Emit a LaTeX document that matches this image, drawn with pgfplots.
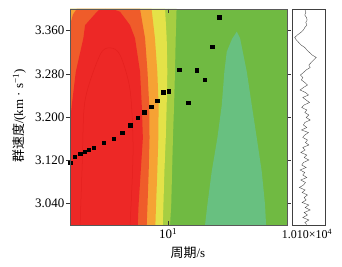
\documentclass[border=0pt]{standalone}
\usepackage{fontspec}
\setmainfont{Liberation Serif}
\newfontfamily\cjk{Noto Sans CJK SC}
\usepackage{pgfplots}
\pgfplotsset{compat=1.18}
\definecolor{cRed}{RGB}{237,40,38}
\definecolor{cOrRed}{RGB}{239,92,42}
\definecolor{cOrange}{RGB}{246,162,52}
\definecolor{cYellow}{RGB}{228,226,72}
\definecolor{cYG}{RGB}{166,206,66}
\definecolor{cGreen}{RGB}{112,186,66}
\definecolor{cTeal}{RGB}{104,192,128}
\begin{document}
\begin{tikzpicture}
\path[use as bounding box] (-70bp,-42bp) rectangle (272bp,225bp);
\begin{axis}[
  at={(0bp,0bp)}, anchor=south west,
  width=217bp, height=216bp, scale only axis,
  xmode=log, xmin=2, xmax=70, ymin=3.0, ymax=3.4,
  xtick={10}, xticklabels={10\textsuperscript{1}}, xminorticks=false,
  ytick={3.04,3.12,3.2,3.28,3.36},
  tick label style={font=\fontsize{13}{13}\selectfont},
  yticklabel style={inner sep=1.5bp, /pgf/number format/.cd, fixed, fixed zerofill, precision=3, assume math mode=true},
  xtick align=inside, ytick align=outside,
  major tick length=4bp,
  tick style={black!80},
  axis line style={draw=black!65},
  axis on top,
  clip mode=individual,
]
% background (green)
\addplot[fill=cGreen, draw=none] coordinates {(2,3.0) (70,3.0) (70,3.4) (2,3.4)} -- cycle;
% yellow-green band
\addplot[fill=cYG, draw=none] coordinates {(2,3.0) (10.3,3.0) (10.5,3.037) (10.65,3.099) (10.8,3.161) (11.0,3.222) (11.17,3.284) (11.3,3.346) (11.46,3.4) (2,3.4)} -- cycle;
% yellow band
\addplot[fill=cYellow, draw=none] coordinates {(2,3.0) (9.14,3.0) (9.24,3.037) (9.39,3.099) (9.6,3.161) (9.75,3.222) (9.85,3.284) (9.75,3.346) (9.49,3.4) (2,3.4)} -- cycle;
% orange band
\addplot[fill=cOrange, draw=none] coordinates {(2,3.0) (8.10,3.0) (8.19,3.037) (8.36,3.099) (8.50,3.161) (8.54,3.222) (8.36,3.284) (8.04,3.346) (7.61,3.4) (2,3.4)} -- cycle;
% orange-red band
\addplot[fill=cOrRed, draw=none] coordinates {(2,3.0) (7.03,3.0) (7.12,3.037) (7.26,3.099) (7.36,3.161) (7.32,3.222) (7.12,3.284) (6.84,3.346) (6.30,3.4) (2.23,3.4) (2.1,3.39) (2,3.37)} -- cycle;
% red core
\addplot[fill=cRed, draw=none] coordinates {(2,3.0) (6.07,3.0) (6.15,3.037) (6.37,3.099) (6.6,3.161) (6.48,3.222) (6.30,3.284) (5.80,3.346) (5.35,3.370) (4.54,3.395) (4.1,3.399) (3.6,3.4) (3.2,3.398) (3.09,3.394) (2.56,3.370) (2.49,3.346) (2.2,3.284) (2.06,3.222) (2.0,3.19)} -- cycle;
% faint inner contour
\addplot[draw=red!75!black, draw opacity=0.2, line width=0.5bp, smooth] coordinates {(2.36,3.0) (2.45,3.12) (2.56,3.231) (3.27,3.315) (3.85,3.328) (4.54,3.315) (5.35,3.25) (5.62,3.139) (5.35,3.0)};
% teal region
\addplot[fill=cTeal, draw=none] coordinates {(18.28,3.000) (18.98,3.037) (20.39,3.099) (22.36,3.161) (24.04,3.222) (25.08,3.284) (26.09,3.321) (28.5,3.345) (30.74,3.358) (32.43,3.346) (36.21,3.284) (39.30,3.222) (42.66,3.161) (46.28,3.099) (48.86,3.037) (49.66,3.000)} -- cycle;
% dispersion points
\addplot[only marks, mark=square*, mark size=1.7bp, black] coordinates {
(2.00,3.115) (2.17,3.127) (2.36,3.132) (2.54,3.136) (2.73,3.139) (2.95,3.143)
(3.49,3.152) (4.09,3.160) (4.71,3.171) (5.35,3.185) (6.07,3.199) (6.76,3.209)
(7.55,3.219) (8.32,3.230) (9.18,3.246) (10.08,3.248) (11.94,3.288) (13.84,3.226)
(15.96,3.287) (18.2,3.269) (20.5,3.330) (23.1,3.385)};
\end{axis}
\begin{axis}[
  at={(222bp,0bp)}, anchor=south west,
  width=33bp, height=216bp, scale only axis,
  xmin=6, xmax=104, ymin=3.0, ymax=3.4,
  xtick=\empty, ytick=\empty,
  axis line style={draw=black!75},
]
\addplot[black!70, line width=0.4bp] coordinates {
(45,3.39815) (47,3.39352) (44,3.38889) (49,3.38426) (51,3.37963) (47,3.37500) (50,3.37037) (44,3.36574)
(40,3.36111) (32,3.35648) (22,3.35185) (14,3.34722) (19,3.34259) (26,3.33796) (33,3.33333) (44,3.32870)
(50,3.32407) (58,3.31944) (66,3.31481) (78,3.31019) (70,3.30556) (63,3.30093) (56,3.29630) (60,3.29167)
(48,3.28704) (40,3.28241) (31,3.27778) (38,3.27315) (34,3.26852) (44,3.26389) (52,3.25926) (40,3.25463)
(30,3.25000) (46,3.24537) (55,3.24074) (38,3.23611) (48,3.23148) (58,3.22685) (42,3.22222) (35,3.21759)
(50,3.21296) (44,3.20833) (56,3.20370) (48,3.19907) (60,3.19444) (44,3.18981) (40,3.18519) (50,3.18056)
(34,3.17593) (55,3.17130) (44,3.16667) (38,3.16204) (52,3.15741) (46,3.15278) (56,3.14815) (38,3.14352)
(45,3.13889) (32,3.13426) (50,3.12963) (42,3.12500) (56,3.12037) (40,3.11574) (35,3.11111) (48,3.10648)
(30,3.10185) (44,3.09722) (38,3.09259) (50,3.08796) (32,3.08333) (46,3.07870) (40,3.07407) (28,3.06944)
(45,3.06481) (36,3.06019) (52,3.05556) (42,3.05093) (48,3.04630) (36,3.04167) (56,3.03704) (45,3.03241)
(60,3.02778) (42,3.02315) (52,3.01852) (38,3.01389) (56,3.00926) (44,3.00463) (50,3.00093)};
\end{axis}
\node[rotate=90, font=\fontsize{13}{13}\selectfont] at (-51bp,109bp) {{\cjk 群速度}/(km · s\textsuperscript{−1})};
\node[font=\fontsize{13}{13}\selectfont] at (118bp,-28bp) {{\cjk 周期}/s};
\node[font=\fontsize{12}{12}\selectfont] at (237bp,-9bp) {1.010×10\textsuperscript{4}};
\end{tikzpicture}
\end{document}
